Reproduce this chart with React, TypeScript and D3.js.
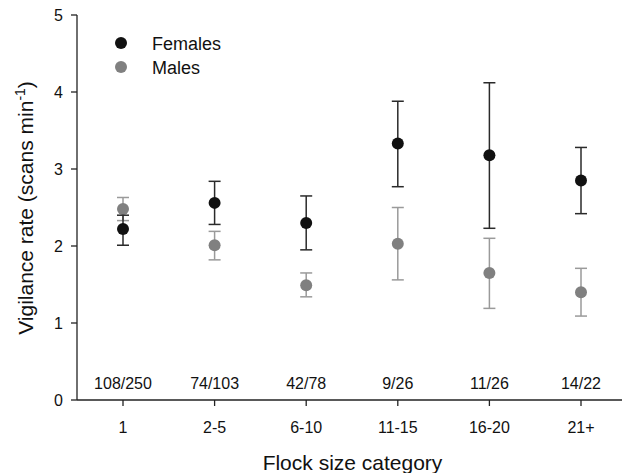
import React from 'react'
import * as d3 from 'd3'

const categories = ['1', '2-5', '6-10', '11-15', '16-20', '21+']
const sampleSizes = ['108/250', '74/103', '42/78', '9/26', '11/26', '14/22']

const femaleMean = [2.22, 2.56, 2.3, 3.33, 3.18, 2.85]
const femaleLow = [2.01, 2.28, 1.95, 2.77, 2.23, 2.42]
const femaleHigh = [2.4, 2.84, 2.65, 3.88, 4.12, 3.28]

const maleMean = [2.48, 2.01, 1.49, 2.03, 1.65, 1.4]
const maleLow = [2.33, 1.82, 1.34, 1.56, 1.19, 1.09]
const maleHigh = [2.63, 2.19, 1.65, 2.5, 2.1, 1.71]

const yTicks = [0, 1, 2, 3, 4, 5]

const font = 'Liberation Sans, Arial, Helvetica, sans-serif'

const App = () => {
  const width = 622
  const height = 473
  const left = 77
  const right = 622
  const top = 15
  const bottom = 400

  const x = d3.scalePoint<string>()
    .domain(categories)
    .range([123, 581])

  const y = d3.scaleLinear()
    .domain([0, 5])
    .range([bottom, top])

  const capW = 6

  const series = [
    { name: 'Males', mean: maleMean, low: maleLow, high: maleHigh, dot: '#808080', bar: '#9a9a9a' },
    { name: 'Females', mean: femaleMean, low: femaleLow, high: femaleHigh, dot: '#111111', bar: '#2a2a2a' },
  ]

  return (
    <svg width={width} height={height} style={{ position: 'absolute', left: 0, top: 0, background: '#fff' }} fontFamily={font}>
      {/* axes */}
      <line x1={left} x2={left} y1={top} y2={bottom} stroke="#222" strokeWidth={1.3} />
      <line x1={left} x2={right} y1={bottom} y2={bottom} stroke="#222" strokeWidth={1.3} />
      {yTicks.map(t => (
        <g key={t}>
          <line x1={left - 6} x2={left} y1={y(t)} y2={y(t)} stroke="#222" strokeWidth={1.3} />
          <text x={63} y={y(t) + 5.7} textAnchor="end" fontSize={16} fill="#111">{t}</text>
        </g>
      ))}
      {categories.map((c, i) => (
        <g key={c}>
          <line x1={x(c)} x2={x(c)} y1={bottom} y2={bottom + 6} stroke="#222" strokeWidth={1.3} />
          <text x={x(c)} y={433} textAnchor="middle" fontSize={16} fill="#111">{c}</text>
          <text x={x(c)} y={389} textAnchor="middle" fontSize={16} fill="#111">{sampleSizes[i]}</text>
        </g>
      ))}

      {/* error bars and means */}
      {series.map(s => (
        <g key={s.name}>
          {categories.map((c, i) => {
            const cx = x(c) as number
            return (
              <g key={c}>
                <line x1={cx} x2={cx} y1={y(s.low[i])} y2={y(s.high[i])} stroke={s.bar} strokeWidth={1.5} />
                <line x1={cx - capW} x2={cx + capW} y1={y(s.low[i])} y2={y(s.low[i])} stroke={s.bar} strokeWidth={1.5} />
                <line x1={cx - capW} x2={cx + capW} y1={y(s.high[i])} y2={y(s.high[i])} stroke={s.bar} strokeWidth={1.5} />
                <circle cx={cx} cy={y(s.mean[i])} r={6} fill={s.dot} />
              </g>
            )
          })}
        </g>
      ))}

      {/* legend */}
      <circle cx={121} cy={43} r={6} fill="#111111" />
      <text x={152} y={49.5} fontSize={18} fill="#111">Females</text>
      <circle cx={121} cy={67} r={6} fill="#808080" />
      <text x={152} y={73.5} fontSize={18} fill="#111">Males</text>

      {/* axis titles */}
      <text x={352.5} y={470} textAnchor="middle" fontSize={21} fill="#111">Flock size category</text>
      <text transform={`translate(33,${208}) rotate(-90)`} textAnchor="middle" fontSize={21} fill="#111">
        Vigilance rate (scans min<tspan fontSize={14} dy={-8}>-1</tspan><tspan dy={8}>)</tspan>
      </text>
    </svg>
  )
}

export default App
